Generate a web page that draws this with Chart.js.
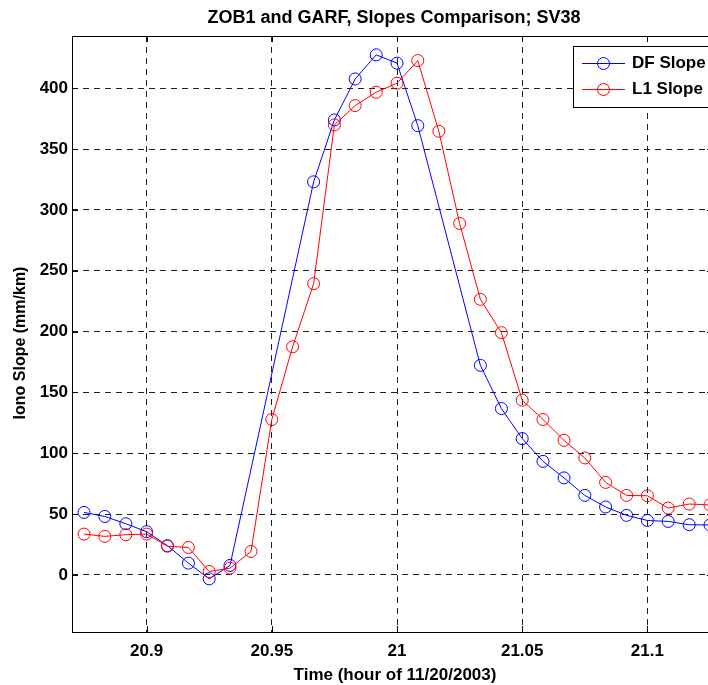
<!DOCTYPE html>
<html><head><meta charset="utf-8">
<script src="https://cdn.jsdelivr.net/npm/chart.js@4/dist/chart.umd.min.js"></script>
<style>
html,body{margin:0;padding:0;background:#fff;overflow:hidden;width:708px;height:685px}
canvas{display:block}
</style></head>
<body>
<canvas id="c" width="720" height="685" style="width:720px;height:685px"></canvas>
<script>
// Time (hour of 11/20/2003), one sample every 30 s
const times = [20.875, 20.8833, 20.8917, 20.9, 20.9083, 20.9167, 20.925, 20.9333, 20.9417, 20.95,
  20.9583, 20.9667, 20.975, 20.9833, 20.9917, 21.0, 21.0083, 21.0167, 21.025, 21.0333,
  21.0417, 21.05, 21.0583, 21.0667, 21.075, 21.0833, 21.0917, 21.1, 21.1083, 21.1167, 21.125];
// DF Slope (mm/km); null = no sample
const dfSlope = [51.3, 48.0, 42.0, 35.5, 24.0, 9.6, -3.3, 7.7, null, null,
  null, 323.1, 374.0, 407.7, 427.5, 420.7, 369.3, null, null, 172.2,
  136.7, 112.0, 93.3, 79.7, 65.3, 55.8, 48.9, 44.7, 43.9, 41.2, 41.0];
// L1 Slope (mm/km)
const l1Slope = [33.5, 31.6, 33.0, 33.5, 23.5, 22.5, 2.7, 5.5, 19.2, 127.7,
  187.5, 239.4, 369.9, 385.8, 396.8, 404.2, 422.8, 364.7, 288.9, 226.5,
  199.1, 143.6, 127.7, 110.6, 96.1, 76.0, 65.3, 65.0, 54.9, 58.2, 57.5];
const xTicks = [20.9, 20.95, 21, 21.05, 21.1];
const xTickLabels = ['20.9', '20.95', '21', '21.05', '21.1'];
const yTicks = [0, 50, 100, 150, 200, 250, 300, 350, 400];
const yTickLabels = ['0', '50', '100', '150', '200', '250', '300', '350', '400'];
const seriesNames = ['DF Slope', 'L1 Slope'];
const titleText = 'ZOB1 and GARF, Slopes Comparison; SV38';
const xTitle = 'Time (hour of 11/20/2003)';
const yTitle = 'Iono Slope (mm/km)';

const FONT = '"Liberation Sans", Arial, sans-serif';
const BLUE = '#0000ff', RED = '#ff0000';

function pts(vals) { return times.map((t, i) => ({ x: t, y: vals[i] })); }

const decor = {
  id: 'decor',
  afterDraw(chart) {
    const ctx = chart.ctx;
    const a = chart.chartArea;
    const xs = chart.scales.x, ys = chart.scales.y;
    ctx.save();
    // axes box
    ctx.strokeStyle = '#000';
    ctx.lineWidth = 1;
    ctx.setLineDash([]);
    ctx.strokeRect(Math.round(a.left) + 0.5, Math.round(a.top) + 0.5,
      Math.round(a.right - a.left), Math.round(a.bottom - a.top));
    // inward ticks
    ctx.beginPath();
    xTicks.forEach(v => {
      const x = Math.round(xs.getPixelForValue(v)) + 0.5;
      ctx.moveTo(x, a.bottom); ctx.lineTo(x, a.bottom - 6);
      ctx.moveTo(x, a.top); ctx.lineTo(x, a.top + 6);
    });
    yTicks.forEach(v => {
      const y = Math.round(ys.getPixelForValue(v)) + 0.5;
      ctx.moveTo(a.left, y); ctx.lineTo(a.left + 6, y);
      ctx.moveTo(a.right, y); ctx.lineTo(a.right - 6, y);
    });
    ctx.stroke();
    // titles
    ctx.fillStyle = '#000';
    ctx.textAlign = 'center';
    ctx.textBaseline = 'middle';
    ctx.font = 'bold 18px ' + FONT;
    ctx.fillText(titleText, 394, 18);
    ctx.font = 'bold 17px ' + FONT;
    ctx.fillText(xTitle, 395, 675);
    ctx.save();
    ctx.font = 'bold 16px ' + FONT;
    ctx.translate(21, 343);
    ctx.rotate(-Math.PI / 2);
    ctx.fillText(yTitle, 0, 0);
    ctx.restore();
    // legend
    const lx = 573.5, ly = 46.5, lw = 150, lh = 61;
    ctx.fillStyle = '#fff';
    ctx.fillRect(lx, ly, lw, lh);
    ctx.strokeStyle = '#000';
    ctx.strokeRect(lx, ly, lw, lh);
    ctx.font = 'bold 17px ' + FONT;
    const rows = [[seriesNames[0], BLUE, 63.5], [seriesNames[1], RED, 89.5]];
    rows.forEach(([name, col, y]) => {
      ctx.strokeStyle = col;
      ctx.beginPath();
      ctx.moveTo(582, y); ctx.lineTo(625, y);
      ctx.stroke();
      ctx.beginPath();
      ctx.arc(603.5, y, 6, 0, Math.PI * 2);
      ctx.stroke();
      ctx.fillStyle = '#000';
      ctx.textAlign = 'left';
      ctx.fillText(name, 632, y);
    });
    ctx.restore();
  }
};

new Chart(document.getElementById('c'), {
  type: 'line',
  data: {
    datasets: [
      { label: seriesNames[0], data: pts(dfSlope), borderColor: BLUE, borderWidth: 1,
        pointRadius: 6, pointHoverRadius: 6, pointBorderColor: BLUE, pointBorderWidth: 1,
        pointBackgroundColor: 'rgba(0,0,0,0)', spanGaps: true, tension: 0, fill: false, order: 1 },
      { label: seriesNames[1], data: pts(l1Slope), borderColor: RED, borderWidth: 1,
        pointRadius: 6, pointHoverRadius: 6, pointBorderColor: RED, pointBorderWidth: 1,
        pointBackgroundColor: 'rgba(0,0,0,0)', spanGaps: true, tension: 0, fill: false, order: 0 }
    ]
  },
  options: {
    responsive: false,
    animation: false,
    devicePixelRatio: 1,
    layout: { padding: { top: 36, right: 4, left: 0, bottom: 0 } },
    plugins: { legend: { display: false }, title: { display: false }, tooltip: { enabled: false } },
    events: [],
    scales: {
      x: {
        type: 'linear', min: 20.8702, max: 21.1262,
        afterBuildTicks: s => { s.ticks = xTicks.map(v => ({ value: v })); },
        afterFit: s => { s.height = 53; },
        ticks: { callback: (v, i) => xTickLabels[i], font: { family: FONT, size: 17, weight: 'bold' },
          color: '#000', padding: 9, maxRotation: 0, autoSkip: false },
        grid: { color: '#222', lineWidth: 1, drawTicks: false },
        border: { display: false, dash: [6, 5] }
      },
      y: {
        type: 'linear', min: -47, max: 443,
        afterBuildTicks: s => { s.ticks = yTicks.map(v => ({ value: v })); },
        afterFit: s => { s.width = 72; },
        ticks: { callback: (v, i) => yTickLabels[i], font: { family: FONT, size: 17, weight: 'bold' },
          color: '#000', padding: 4, autoSkip: false },
        grid: { color: '#222', lineWidth: 1, drawTicks: false },
        border: { display: false, dash: [6, 5] }
      }
    }
  },
  plugins: [decor]
});
</script>
</body></html>
